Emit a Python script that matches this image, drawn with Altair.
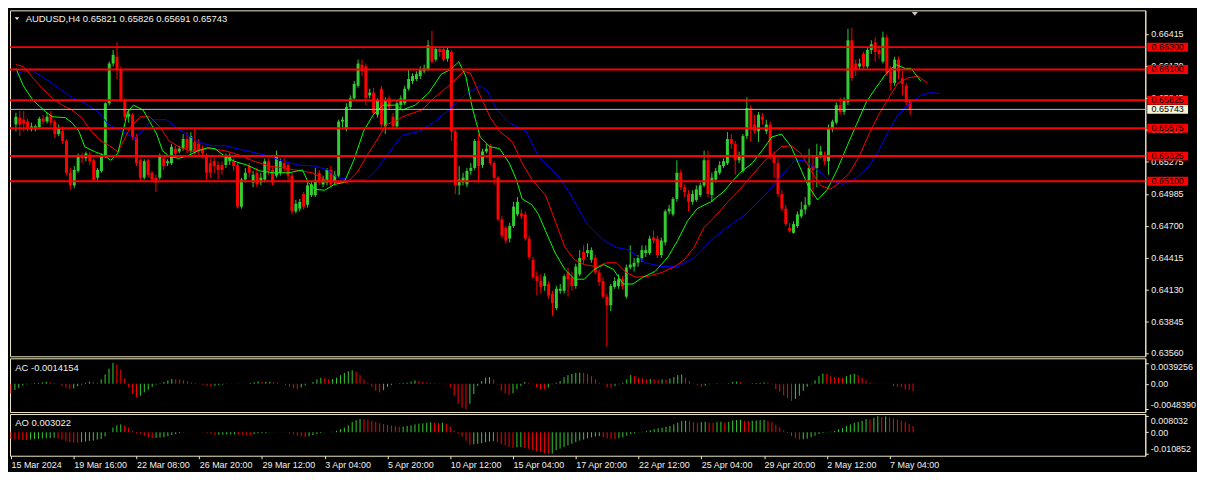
import json
import altair as alt
import pandas as pd

# ---------------- data (prices in 1e-5 units) ----------------
open_p5 = [
    65608, 65669, 65651, 65634, 65565, 65565, 65582, 65660, 65634, 65695,
    65634, 65522, 65547, 65461, 65176, 65063, 65193, 65331, 65305, 65340,
    65288, 65132, 65193, 65323, 65798, 66153, 66214, 66101, 65824, 65677,
    65695, 65496, 65288, 65132, 65288, 65176, 65132, 65132, 65305, 65262,
    65262, 65392, 65366, 65392, 65478, 65374, 65452, 65435, 65392, 65323,
    65262, 65279, 65245, 65245, 65245, 65279, 65279, 65245, 64873, 65115,
    65236, 65089, 65176, 65089, 65115, 65279, 65201, 65150, 65176, 65262,
    65245, 65150, 64830, 64855, 64985, 64890, 64977, 64977, 65176, 65072,
    65089, 65201, 65089, 65150, 65634, 65565, 65764, 65842, 65954, 66144,
    66127, 65868, 65893, 65695, 65928, 65591, 65842, 65677, 65591, 65781,
    65798, 65928, 65997, 66015, 66041, 66084, 66101, 66300, 66188, 66283,
    66283, 66196, 66257, 65547, 65063, 65089, 65072, 65193, 65219, 65461,
    65245, 65366, 65418, 65262, 65132, 64760, 64682, 64587, 64700, 64804,
    64812, 64804, 64587, 64397, 64250, 64207, 64163, 64181, 64094, 63965,
    64120, 64120, 64285, 64241, 64163, 64267, 64466, 64458, 64397, 64414,
    64285, 64207, 64068, 63990, 64155, 64163, 64224, 64068, 64328, 64336,
    64371, 64414, 64458, 64458, 64596, 64587, 64440, 64553, 64830, 64804,
    64942, 65176, 65046, 64985, 64916, 64933, 64977, 65063, 65288, 64977,
    65115, 65176, 65236, 65262, 65478, 65435, 65288, 65193, 65504, 65755,
    65608, 65547, 65677, 65547, 65608, 65331, 65262, 64985, 64855, 64682,
    64639, 64700, 64786, 64847, 64890, 65236, 65219, 65331, 65331, 65279,
    65565, 65625, 65781, 65720, 65807, 66361, 66153, 66127, 66239, 66127,
    66274, 66343, 66274, 66170, 66387, 66084, 65980, 66188, 66023, 65954,
    65821,
]
high_p5 = [
    65712, 65729, 65729, 65660, 65625, 65608, 65677, 65695, 65712, 65729,
    65651, 65608, 65591, 65478, 65219, 65236, 65349, 65357, 65366, 65366,
    65305, 65219, 65349, 65807, 66170, 66274, 66343, 66127, 65842, 65738,
    65712, 65522, 65305, 65297, 65305, 65193, 65158, 65349, 65331, 65297,
    65435, 65418, 65418, 65522, 65539, 65539, 65565, 65478, 65418, 65349,
    65305, 65305, 65279, 65279, 65349, 65349, 65305, 65262, 65132, 65219,
    65262, 65193, 65219, 65176, 65305, 65305, 65219, 65374, 65305, 65305,
    65262, 65176, 64933, 64942, 65003, 65089, 65106, 65219, 65201, 65150,
    65219, 65236, 65193, 65651, 65677, 65798, 65868, 65997, 66188, 66188,
    66153, 65928, 65937, 65842, 65954, 65850, 65868, 65712, 65824, 65868,
    65954, 66101, 66066, 66084, 66127, 66144, 66361, 66447, 66300, 66300,
    66300, 66300, 66274, 65565, 65236, 65176, 65219, 65262, 65478, 65522,
    65392, 65435, 65435, 65279, 65150, 64786, 64700, 64726, 64916, 64959,
    64847, 64830, 64613, 64423, 64293, 64267, 64276, 64207, 64120, 64163,
    64181, 64267, 64328, 64293, 64362, 64484, 64527, 64544, 64509, 64440,
    64311, 64241, 64094, 64181, 64241, 64267, 64250, 64354, 64527, 64414,
    64440, 64527, 64527, 64613, 64657, 64613, 64596, 64847, 64890, 64959,
    65288, 65201, 65072, 65020, 65020, 65063, 65089, 65374, 65374, 65176,
    65219, 65279, 65305, 65539, 65522, 65461, 65366, 65522, 65850, 65781,
    65695, 65720, 65712, 65651, 65634, 65366, 65305, 65020, 64890, 64726,
    64743, 64830, 64916, 64959, 65392, 65331, 65435, 65418, 65366, 65608,
    65651, 65807, 65850, 65850, 66464, 66473, 66188, 66196, 66257, 66300,
    66361, 66387, 66317, 66438, 66412, 66127, 66214, 66214, 66084, 65980,
    65826,
]
low_p5 = [
    65547, 65504, 65547, 65547, 65547, 65547, 65565, 65608, 65617, 65599,
    65487, 65504, 65435, 65158, 65028, 65037, 65176, 65262, 65279, 65245,
    65106, 65106, 65176, 65305, 65781, 66127, 66015, 65807, 65651, 65625,
    65470, 65236, 65106, 65115, 65132, 65089, 65003, 65115, 65201, 65236,
    65245, 65323, 65349, 65374, 65349, 65349, 65323, 65331, 65305, 65115,
    65132, 65176, 65115, 65158, 65219, 65245, 65193, 64855, 64855, 65089,
    65132, 65046, 65046, 65063, 65089, 65158, 65063, 65132, 65150, 65176,
    65106, 64804, 64812, 64830, 64847, 64864, 64959, 64959, 65063, 65046,
    65063, 65046, 65063, 65132, 65565, 65547, 65738, 65824, 65937, 66041,
    65781, 65842, 65695, 65669, 65582, 65522, 65738, 65565, 65565, 65755,
    65781, 65911, 65971, 65997, 66015, 66066, 66084, 66153, 66170, 66214,
    66170, 66170, 65461, 64985, 64977, 65063, 65046, 65158, 65201, 65089,
    65219, 65349, 65245, 65072, 64743, 64587, 64544, 64553, 64682, 64786,
    64760, 64570, 64397, 64224, 64077, 64094, 64120, 64051, 63895, 63947,
    64094, 64094, 64068, 64120, 64138, 64250, 64354, 64423, 64371, 64267,
    64163, 64051, 63619, 63939, 64138, 64138, 64138, 64051, 64311, 64293,
    64336, 64380, 64423, 64440, 64544, 64414, 64414, 64527, 64804, 64786,
    64916, 65020, 64959, 64830, 64890, 64916, 64959, 65046, 64959, 64916,
    65089, 65158, 65219, 65245, 65392, 65158, 65262, 65176, 65478, 65452,
    65522, 65452, 65608, 65522, 65297, 65132, 64959, 64830, 64700, 64639,
    64631, 64682, 64769, 64804, 64873, 64959, 65046, 65305, 65245, 65158,
    65539, 65608, 65695, 65695, 65781, 65997, 66041, 66101, 66101, 66110,
    66239, 66170, 66196, 66153, 66041, 65911, 65954, 66015, 65868, 65781,
    65691,
]
close_p5 = [
    65677, 65608, 65617, 65582, 65591, 65591, 65660, 65634, 65677, 65625,
    65522, 65573, 65461, 65176, 65063, 65201, 65323, 65305, 65349, 65279,
    65115, 65201, 65323, 65798, 66153, 66231, 66101, 65824, 65677, 65703,
    65496, 65262, 65132, 65279, 65158, 65115, 65089, 65331, 65236, 65279,
    65409, 65349, 65392, 65478, 65392, 65504, 65349, 65366, 65349, 65176,
    65176, 65236, 65201, 65201, 65323, 65323, 65236, 64873, 65115, 65176,
    65176, 65158, 65072, 65132, 65279, 65193, 65089, 65323, 65279, 65219,
    65150, 64830, 64899, 64916, 64873, 65063, 65072, 65106, 65089, 65115,
    65201, 65072, 65158, 65634, 65651, 65764, 65842, 65971, 66153, 66084,
    65842, 65893, 65712, 65824, 65608, 65824, 65764, 65591, 65798, 65842,
    65928, 66015, 66041, 66058, 66101, 66110, 66317, 66170, 66283, 66257,
    66188, 66274, 65547, 65063, 65115, 65132, 65193, 65219, 65461, 65236,
    65366, 65392, 65262, 65132, 64760, 64613, 64570, 64700, 64873, 64916,
    64786, 64587, 64423, 64241, 64207, 64155, 64250, 64077, 64008, 64138,
    64138, 64250, 64224, 64163, 64336, 64414, 64397, 64484, 64484, 64285,
    64198, 64068, 63990, 64163, 64207, 64224, 64163, 64328, 64354, 64371,
    64414, 64484, 64484, 64587, 64570, 64440, 64570, 64830, 64855, 64942,
    65176, 65046, 65003, 64916, 64985, 65028, 65063, 65288, 64985, 65132,
    65193, 65245, 65279, 65478, 65435, 65288, 65331, 65504, 65755, 65565,
    65547, 65695, 65651, 65608, 65323, 65262, 64985, 64855, 64717, 64657,
    64717, 64804, 64847, 64890, 65219, 65201, 65331, 65366, 65279, 65565,
    65634, 65781, 65720, 65824, 66361, 66023, 66101, 66153, 66127, 66274,
    66326, 66257, 66239, 66387, 66066, 65980, 66188, 66084, 65971, 65807,
    65743,
]

# Alligator lines (bar position, price in 1e-5)
lips_bar = [
    0, 1.9, 4.4, 7.7, 9.4, 12.7, 14.4, 16.2, 17.7, 20.2,
    22.7, 24.4, 26.2, 27.4, 28.7, 30.2, 32.7, 34.4, 36.2, 37.7,
    39.4, 41.9, 44.4, 46.9, 49.4, 51.2, 53.7, 56.2, 59.4, 62.7,
    66.2, 70.2, 73.7, 75.2, 76.9, 79.4, 81.9, 84.4, 86.9, 89.4,
    91.9, 94.4, 97.7, 99.4, 102.7, 106.2, 109.4, 111.9, 113.9, 115.7,
    117.4, 119.4, 121.9, 124.4, 126.9, 128.7, 130.2, 132.7, 134.4, 136.2,
    138.7, 141.2, 143.7, 146.2, 148.7, 151.2, 153.7, 156.2, 158.7, 161.2,
    164.4, 167.7, 170.2, 172.7, 175.2, 178.7, 181.9, 186.2, 189.4, 191.9,
    194.4, 196.9, 199.4, 201.2, 203.7, 206.2, 208.7, 211.2, 213.7, 216.2,
    218.7, 221.2, 223.7, 226.2, 228.7, 230.2, 232.7,
]
lips_p5 = [
    66110, 65954, 65824, 65720, 65677, 65669, 65625, 65547, 65409, 65366,
    65331, 65288, 65349, 65522, 65720, 65781, 65738, 65634, 65522, 65374,
    65323, 65305, 65331, 65374, 65400, 65392, 65323, 65279, 65245, 65193,
    65176, 65176, 65201, 65089, 65028, 65020, 65072, 65089, 65288, 65547,
    65695, 65781, 65781, 65738, 65781, 65893, 66058, 66101, 66170, 66041,
    65755, 65496, 65409, 65392, 65262, 65115, 64942, 64890, 64804, 64657,
    64458, 64311, 64224, 64224, 64311, 64354, 64311, 64181, 64181, 64241,
    64293, 64423, 64570, 64743, 64855, 64916, 65003, 65176, 65262, 65374,
    65496, 65522, 65409, 65262, 65063, 64933, 65028, 65201, 65409, 65608,
    65807, 65937, 66058, 66144, 66110, 66110, 65997,
]
teeth_bar = [
    0, 1.9, 4.4, 6.9, 9.4, 11.9, 14.4, 16.9, 19.4, 21.9,
    24.4, 26.2, 27.7, 29.4, 31.9, 34.4, 36.9, 39.4, 41.9, 45.2,
    49.4, 53.7, 57.7, 61.2, 65.2, 68.7, 71.9, 76.2, 79.4, 82.7,
    85.2, 87.7, 90.2, 92.7, 95.2, 97.7, 99.4, 104.4, 107.7, 111.9,
    115.2, 116.9, 119.4, 121.9, 124.4, 127.7, 130.2, 132.7, 136.2, 138.7,
    141.2, 143.7, 146.2, 149.4, 151.9, 154.4, 156.9, 159.4, 162.7, 166.2,
    169.4, 171.9, 174.4, 176.9, 179.4, 182.7, 186.2, 189.4, 192.7, 194.4,
    196.9, 199.4, 201.9, 204.4, 206.9, 209.4, 211.9, 214.4, 216.9, 219.4,
    221.9, 224.4, 226.9, 229.4, 231.9, 234.4,
]
teeth_p5 = [
    66144, 66127, 66023, 65928, 65842, 65781, 65738, 65669, 65547, 65461,
    65409, 65366, 65461, 65582, 65677, 65677, 65591, 65461, 65409, 65366,
    65392, 65374, 65331, 65279, 65236, 65219, 65201, 65176, 65115, 65089,
    65089, 65176, 65323, 65461, 65608, 65634, 65677, 65738, 65850, 65971,
    66084, 66066, 65868, 65677, 65547, 65452, 65262, 65115, 64977, 64743,
    64509, 64397, 64354, 64336, 64371, 64371, 64285, 64241, 64250, 64285,
    64336, 64397, 64509, 64682, 64769, 64899, 65028, 65158, 65288, 65331,
    65409, 65418, 65349, 65201, 65063, 65028, 65089, 65176, 65323, 65522,
    65695, 65842, 65980, 66023, 66041, 65980,
]
jaw_bar = [
    0, 1.9, 4.4, 7.7, 11.2, 14.4, 17.7, 21.2, 23.7, 26.2,
    28.7, 30.7, 32.7, 35.2, 38.7, 41.2, 43.7, 46.9, 50.2, 53.7,
    56.9, 60.2, 64.4, 68.7, 72.7, 76.9, 80.2, 82.7, 86.2, 90.2,
    92.7, 95.2, 99.4, 103.7, 107.7, 111.9, 116.2, 119.4, 121.2, 123.7,
    126.9, 131.2, 134.4, 139.4, 142.7, 146.9, 151.2, 154.4, 157.7, 161.9,
    166.2, 170.2, 174.4, 178.7, 182.7, 187.7, 192.7, 196.9, 200.2, 202.7,
    206.2, 209.4, 212.7, 216.2, 219.4, 221.9, 224.4, 226.9, 229.4, 232.7,
    235.2, 237.7,
]
jaw_p5 = [
    66058, 66084, 66084, 66015, 65928, 65850, 65798, 65720, 65608, 65565,
    65522, 65478, 65565, 65651, 65651, 65582, 65522, 65452, 65418, 65418,
    65392, 65366, 65331, 65279, 65245, 65236, 65201, 65132, 65115, 65115,
    65201, 65323, 65513, 65547, 65634, 65755, 65893, 65954, 65911, 65738,
    65625, 65547, 65323, 65150, 64977, 64717, 64570, 64509, 64484, 64371,
    64336, 64336, 64414, 64570, 64682, 64804, 64977, 65150, 65279, 65288,
    65201, 65106, 65072, 65132, 65236, 65374, 65547, 65695, 65781, 65868,
    65893, 65885,
]

# Accelerator (AC) and Awesome (AO) oscillators, in 1e-4 units
ac_e4 = [
    -18.2, -12.05, -8.36, -3.44, -0.98, 0.25, 1.17, 1.48, 2.71, 3.94,
    2.71, 1.48, -0.37, -4.06, -7.75, -10.21, -8.98, -4.67, -1.60, 1.48,
    3.94, 3.32, 2.09, 8.24, 17.47, 28.54, 39.256, 35.92, 26.69, 10.09,
    -5.90, -19.43, -25.58, -22.51, -16.36, -11.44, -5.90, -1.60, 0.86, 3.32,
    6.40, 8.86, 8.24, 7.63, 6.40, 4.55, 2.71, 1.48, -0.37, -2.21,
    -4.06, -5.90, -4.06, -2.83, -1.60, -0.37, 0.25, -0.06, -0.37, -0.12,
    0.12, 1.48, 2.71, 4.55, 3.32, 3.63, 3.94, 3.32, 2.09, 0.25,
    -2.21, -5.90, -8.36, -10.21, -7.13, -2.83, 0.25, 3.32, 8.24, 11.32,
    10.70, 8.24, 8.86, 11.32, 16.24, 20.54, 23.62, 25.46, 22.39, 16.24,
    8.24, 2.09, -5.90, -13.28, -16.36, -12.05, -5.90, -2.21, 0.25, 0.86,
    1.48, 2.09, 3.94, 6.40, 5.17, 3.32, 2.09, 1.48, 0.86, 0.55,
    0.25, -0.98, -7.13, -22.51, -37.88, -45.26, -48.39, -37.88, -19.43, -4.06,
    5.17, 11.32, 12.55, 8.24, -0.98, -13.28, -18.20, -20.66, -18.20, -10.21,
    -4.06, 3.32, 2.09, -0.98, -7.13, -10.21, -10.82, -7.13, -0.98, 2.09,
    5.17, 12.55, 16.24, 18.70, 20.54, 21.16, 20.54, 18.70, 14.39, 8.24,
    2.09, -0.98, -7.13, -7.75, -4.06, -0.98, 2.09, 8.24, 16.24, 14.39,
    11.32, 10.09, 8.24, 8.86, 8.24, 7.63, 8.24, 7.63, 10.09, 12.55,
    16.24, 17.47, 11.32, 5.17, -0.98, -2.83, -5.90, -3.44, -0.98, 0.25,
    0.86, 0.55, 0.25, 0.86, 3.32, 3.94, 2.71, 0.25, -0.06, 0.86,
    1.48, 1.78, 2.71, 2.09, -0.98, -10.21, -15.13, -21.89, -27.43, -32.35,
    -28.66, -22.51, -13.28, -5.90, -0.98, 6.40, 14.39, 19.31, 18.70, 14.39,
    12.55, 11.93, 11.32, 14.39, 17.47, 18.70, 16.24, 11.32, 6.40, 2.09,
    0.86, 0.25, 0.06, 0.25, -0.37, -4.67, -5.90, -7.13, -10.82, -12.05,
    -14.154,
]
ao_e4 = [
    -33.4, -36.6, -36.6, -38.3, -39.1, -36.6, -33.4, -32.6, -31.0, -30.2,
    -29.4, -27.0, -30.2, -36.6, -46.3, -49.5, -52.8, -53.6, -49.5, -46.3,
    -43.1, -41.5, -36.6, -33.4, -20.5, -1.1, 23.1, 34.4, 39.2, 34.4,
    23.1, 6.9, -4.4, -9.2, -17.3, -25.3, -30.2, -28.6, -27.0, -25.3,
    -20.5, -14.0, -9.2, -4.4, -1.1, -0.5, -0.3, -0.2, -0.5, -1.1,
    -4.4, -9.2, -14.0, -13.2, -12.4, -11.6, -10.8, -10.0, -10.8, -12.4,
    -13.2, -14.0, -9.2, -6.0, -5.2, -4.4, -1.1, -0.8, -0.5, -0.3,
    -1.1, -6.0, -10.8, -17.3, -20.5, -25.3, -20.5, -14.0, -9.2, -4.4,
    -1.1, -0.3, 2.1, 6.9, 15.0, 23.1, 34.4, 50.5, 60.2, 66.7,
    65.0, 61.8, 55.4, 50.5, 44.1, 40.8, 36.0, 32.8, 29.5, 26.3,
    27.9, 31.2, 34.4, 39.2, 42.4, 44.1, 47.3, 48.9, 47.3, 45.7,
    47.3, 42.4, 27.9, 6.9, -7.6, -22.0, -42.0, -63.0, -61.0, -57.6,
    -54.4, -49.5, -46.3, -44.7, -49.5, -57.6, -65.7, -73.8, -78.6, -75.4,
    -73.8, -78.6, -81.8, -89.9, -94.7, -98.0, -105.0, -108.52, -106.0, -89.9,
    -81.8, -73.8, -65.7, -57.6, -49.5, -41.5, -36.6, -30.2, -25.3, -20.5,
    -18.9, -25.3, -30.2, -33.4, -35.0, -30.2, -25.3, -17.3, -9.2, -4.4,
    -1.1, 2.1, 5.3, 10.2, 15.0, 19.9, 23.1, 26.3, 31.2, 39.2,
    47.3, 55.4, 57.0, 55.4, 50.5, 47.3, 50.5, 52.1, 47.3, 45.7,
    50.5, 52.1, 47.3, 52.1, 58.6, 60.2, 61.8, 57.0, 55.4, 57.0,
    58.6, 60.2, 61.8, 55.4, 50.5, 37.6, 23.1, 8.6, -4.4, -18.9,
    -30.2, -36.6, -35.0, -31.8, -25.3, -17.3, -9.2, -4.4, -1.1, 2.1,
    6.9, 15.0, 19.9, 31.2, 39.2, 47.3, 50.5, 57.0, 66.0, 63.0,
    72.0, 80.32, 76.0, 79.0, 74.0, 68.0, 62.0, 57.0, 50.0, 41.0,
    30.22,
]

levels = [0.66300, 0.66100, 0.65825, 0.65575, 0.65325, 0.65100]
current_price = 0.65743
price_ticks = [0.66415, 0.66130, 0.65845, 0.65560, 0.65275, 0.64985,
               0.64700, 0.64415, 0.64130, 0.63845, 0.63560]
ac_ticks = [0.0039256, 0.0, -0.0048390]
ac_tick_text = ["0.0039256", "0.00", "-0.0048390"]
ao_ticks = [0.008032, 0.0, -0.010852]
ao_tick_text = ["0.008032", "0.00", "-0.010852"]
time_ticks = list(range(0, 225, 16))
time_labels = ["15 Mar 2024", "19 Mar 16:00", "22 Mar 08:00", "26 Mar 20:00",
               "29 Mar 12:00", "3 Apr 04:00", "5 Apr 20:00", "10 Apr 12:00",
               "15 Apr 04:00", "17 Apr 20:00", "22 Apr 12:00", "25 Apr 04:00",
               "29 Apr 20:00", "2 May 12:00", "7 May 04:00"]
title_text = "AUDUSD,H4  0.65821 0.65826 0.65691 0.65743"
ac_text = "AC -0.0014154"
ao_text = "AO 0.003022"
shift_marker_bar = [231.2]

# ---------------- style ----------------
W = 1142
H_MAIN, H_AC, H_AO = 348, 54, 42
FONT = "Liberation Sans"
FG = "#f2f2ea"
FRAME = "#efe7c5"
BULL = "#32cd32"
BEAR = "#ff0000"
HIST_UP = "#008000"
HIST_DN = "#ff0000"

n = min(len(open_p5), len(high_p5), len(low_p5), len(close_p5))
candles = pd.DataFrame({
    "i": list(range(n)),
    "o": [v / 1e5 for v in open_p5[:n]],
    "h": [v / 1e5 for v in high_p5[:n]],
    "l": [v / 1e5 for v in low_p5[:n]],
    "c": [v / 1e5 for v in close_p5[:n]],
})
candles["dir"] = ["up" if c >= o else "down" for o, c in zip(candles.o, candles.c)]


def hist_dirs(vals):
    out = []
    for k, v in enumerate(vals):
        out.append("down" if k == 0 else ("up" if v > vals[k - 1] else "down"))
    return out


x_scale = alt.Scale(domain=[-0.25, 289.2], nice=False, zero=False)
p_scale = alt.Scale(domain=[0.63534, 0.66629], nice=False, zero=False)
X_none = alt.X("i:Q", scale=x_scale, axis=None)

# ticks + axis line only; the price labels are drawn as a text layer so the
# level boxes can cover them, as in the terminal
price_axis = alt.Axis(orient="right", values=price_ticks, labels=False, title=None,
                      tickColor=FRAME, tickSize=3, domainColor=FRAME, grid=False)


def Yprice(field):
    return alt.Y(field, scale=p_scale, axis=price_axis, title=None)


candle_color = alt.Color("dir:N", scale=alt.Scale(domain=["up", "down"], range=[BULL, BEAR]),
                         legend=None)

wicks = alt.Chart(candles).mark_rule(strokeWidth=1).encode(
    x=X_none, y=Yprice("l:Q"), y2="h:Q", color=candle_color)
bodies = alt.Chart(candles).mark_bar(size=3).encode(
    x=X_none, y=Yprice("o:Q"), y2="c:Q", color=candle_color)


def ma_line(bars, vals, col):
    df = pd.DataFrame({"b": bars[:len(vals)], "p": [v / 1e5 for v in vals[:len(bars)]]})
    return alt.Chart(df).mark_line(color=col, strokeWidth=1).encode(
        x=alt.X("b:Q", scale=x_scale, axis=None), y=Yprice("p:Q"))


jaw = ma_line(jaw_bar, jaw_p5, "#0000ff")
teeth = ma_line(teeth_bar, teeth_p5, "#ff0000")
lips = ma_line(lips_bar, lips_p5, "#00ff00")

tk = pd.DataFrame({"p": price_ticks, "t": [f"{v:.5f}" for v in price_ticks]})
lv = pd.DataFrame({"p": levels, "t": [f"{v:.5f}" for v in levels]})
cur = pd.DataFrame({"p": [current_price], "t": [f"{current_price:.5f}"]})

tick_text = alt.Chart(tk).mark_text(font=FONT, fontSize=9, color=FG, align="left",
                                    baseline="middle").encode(
    x=alt.value(W + 6), y=Yprice("p:Q"), text="t:N")
level_rules = alt.Chart(lv).mark_rule(color=BEAR, strokeWidth=2).encode(y=Yprice("p:Q"))
cur_rule = alt.Chart(cur).mark_rule(color="#c0c0c0", strokeWidth=1).encode(y=Yprice("p:Q"))
level_boxes = alt.Chart(lv).mark_rule(color=BEAR, strokeWidth=9, strokeCap="butt").encode(
    x=alt.value(W + 2), x2=alt.value(W + 43), y=Yprice("p:Q"))
level_text = alt.Chart(lv).mark_text(font=FONT, fontSize=9, color="#000000",
                                     align="center", baseline="middle").encode(
    x=alt.value(W + 22.5), y=Yprice("p:Q"), text="t:N")
cur_box = alt.Chart(cur).mark_rule(color="#f8f4d8", strokeWidth=9, strokeCap="butt").encode(
    x=alt.value(W + 2), x2=alt.value(W + 43), y=Yprice("p:Q"))
cur_text = alt.Chart(cur).mark_text(font=FONT, fontSize=9, color="#000000",
                                    align="center", baseline="middle").encode(
    x=alt.value(W + 22.5), y=Yprice("p:Q"), text="t:N")

tri_path = "M-1,-0.6L1,-0.6L0,0.6Z"
title_mark = alt.Chart(pd.DataFrame({"t": [title_text]})).mark_text(
    font=FONT, fontSize=9.5, color=FG, align="left", baseline="middle").encode(
    x=alt.value(15.8), y=alt.value(8.5), text="t:N")
title_tri = alt.Chart(pd.DataFrame({"t": [title_text]})).mark_point(
    shape=tri_path, filled=True, color=FG, size=22, opacity=1, strokeWidth=0).encode(
    x=alt.value(7), y=alt.value(8.3))
shift_mark = alt.Chart(pd.DataFrame({"b": shift_marker_bar})).mark_point(
    shape=tri_path, filled=True, color="#c4c4c4", size=38, opacity=1, strokeWidth=0).encode(
    x=alt.X("b:Q", scale=x_scale, axis=None), y=alt.value(3.6))

main = alt.layer(wicks, bodies, jaw, teeth, lips, level_rules, cur_rule,
                 tick_text, level_boxes, level_text, cur_box, cur_text,
                 title_mark, title_tri, shift_mark).properties(width=W, height=H_MAIN)


def label_expr(vals, texts):
    parts = [f"abs(datum.value - ({v})) < 1e-9 ? {json.dumps(t)}" for v, t in zip(vals, texts)]
    return " : ".join(parts) + " : ''"


def osc_axis(vals, texts):
    return alt.Axis(orient="right", values=vals, labelExpr=label_expr(vals, texts), title=None,
                    labelColor=FG, labelFont=FONT, labelFontSize=9, tickColor=FRAME, tickSize=3,
                    domainColor=FRAME, labelPadding=2, grid=False, labelOverlap=False,
                    labelFlush=False, labelBound=False,
                    labelBaseline={"condition": [{"test": "datum.value > 0", "value": "top"},
                                                 {"test": "datum.value < 0", "value": "bottom"}],
                                   "value": "middle"})


hist_color = alt.Color("dir:N", scale=alt.Scale(domain=["up", "down"], range=[HIST_UP, HIST_DN]),
                       legend=None)


def osc_panel(vals, unit, domain, axis, label, label_y, height, x_enc):
    m = min(len(vals), n)
    df = pd.DataFrame({"i": list(range(m)), "v": [v * unit for v in vals[:m]],
                       "dir": hist_dirs(vals[:m])})
    bars = alt.Chart(df).mark_rule(strokeWidth=1).encode(
        x=x_enc,
        y=alt.Y("v:Q", scale=alt.Scale(domain=domain, nice=False, zero=False), axis=axis),
        y2=alt.Y2(datum=0), color=hist_color)
    txt = alt.Chart(pd.DataFrame({"t": [label]})).mark_text(
        font=FONT, fontSize=9.5, color=FG, align="left", baseline="middle").encode(
        x=alt.value(5.3), y=alt.value(label_y), text="t:N")
    return alt.layer(bars, txt).properties(width=W, height=height)


time_axis = alt.Axis(values=time_ticks,
                     labelExpr=json.dumps(time_labels) + "[round(datum.value / 16)]",
                     title=None, labelAlign="left", labelBaseline="top", labelColor=FG,
                     labelFont=FONT, labelFontSize=9, tickColor=FRAME, tickSize=3,
                     domain=False, labelPadding=2, labelOverlap=False, labelFlush=False,
                     labelBound=False, grid=False)

ac = osc_panel(ac_e4, 1e-4, [-0.00534, 0.00481], osc_axis(ac_ticks, ac_tick_text),
               ac_text, 9.6, H_AC, X_none)
ao = osc_panel(ao_e4, 1e-4, [-0.01172, 0.0091], osc_axis(ao_ticks, ao_tick_text),
               ao_text, 8.8, H_AO, alt.X("i:Q", scale=x_scale, axis=time_axis))

chart = alt.vconcat(main, ac, ao, spacing=2, bounds="flush").properties(
    background="#000000", padding=0
).configure_view(stroke=FRAME, strokeWidth=1).configure_axis(grid=False)

chart.save("out.html", embed_options={"renderer": "svg", "actions": False})
